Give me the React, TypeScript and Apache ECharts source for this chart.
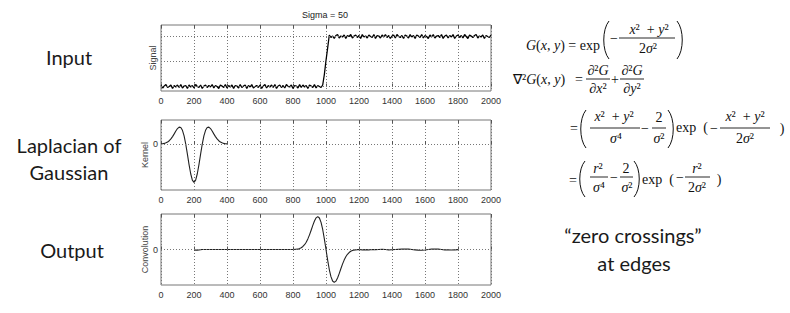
import React, { useEffect, useRef } from "react";
import * as echarts from "echarts";

// ---------- data ----------
const titleText = "Sigma = 50";
const xMin = 0;
const xMax = 2000;
const xInterval = 200;
const signalStep = 10; // sample spacing of the signal (x units)
const kernelStep = 10;

// input signal, x = 0..980
const signalLow = [
  0.02, -0.03, 0.01, 0.04, -0.02, 0.0, 0.03, -0.04, 0.02, -0.01,
  0.03, -0.02, 0.04, -0.03, 0.01, 0.02, -0.04, 0.03, -0.01, 0.02,
  -0.03, 0.04, 0.0, -0.02, 0.03, -0.04, 0.01, 0.03, -0.02, 0.02,
  -0.01, 0.04, -0.03, 0.02, 0.0, -0.04, 0.03, 0.01, -0.02, 0.04,
  -0.03, 0.02, -0.01, 0.03, -0.04, 0.02, 0.01, -0.03, 0.04, -0.02,
  0.01, 0.03, -0.04, 0.02, -0.01, 0.04, -0.03, 0.0, 0.02, -0.02,
  0.03, -0.04, 0.01, 0.04, -0.03, 0.02, -0.01, 0.03, -0.02, 0.04,
  -0.04, 0.01, 0.03, -0.02, 0.02, -0.03, 0.04, 0.0, -0.01, 0.03,
  -0.04, 0.02, 0.01, -0.03, 0.04, -0.02, 0.03, -0.01, 0.02, -0.04,
  0.03, 0.01, -0.02, 0.04, -0.03, 0.02, 0.0, -0.02, 0.03,
];
// x = 990, 1000, 1010
const signalRamp = [0.24, 0.52, 0.77];
// x = 1020..2000
const signalHigh = [
  1.03, 0.98, 1.01, 0.96, 1.02, 1.04, 0.97, 1.01, 0.99, 1.03,
  0.96, 1.02, 1.0, 1.04, 0.97, 1.01, 1.03, 0.98, 1.02, 0.96,
  1.04, 0.99, 1.01, 0.97, 1.03, 1.0, 0.98, 1.04, 0.96, 1.02,
  1.01, 0.97, 1.03, 0.99, 1.04, 0.98, 1.02, 0.96, 1.01, 1.03,
  0.97, 1.04, 1.0, 0.98, 1.02, 0.96, 1.03, 1.01, 0.97, 1.04,
  0.99, 1.02, 0.96, 1.03, 1.01, 0.98, 1.04, 0.97, 1.02, 1.0,
  0.96, 1.03, 0.99, 1.04, 0.97, 1.01, 1.02, 0.98, 1.04, 0.96,
  1.01, 1.03, 0.97, 1.02, 0.99, 1.04, 0.96, 1.01, 1.03, 0.98,
  1.02, 0.97, 1.04, 1.0, 0.96, 1.03, 1.01, 0.98, 1.02, 1.04,
  0.97, 1.01, 0.99, 1.03, 0.96, 1.02, 1.0, 0.98, 1.03,
];
const signalGridLevels = [0, 0.5, 1];

// Laplacian of Gaussian kernel, x = 0..400
const kernelValues = [
  0.005, 0.01, 0.018, 0.033, 0.055, 0.089, 0.136, 0.196, 0.267, 0.341,
  0.406, 0.443, 0.434, 0.36, 0.214, 0, -0.261, -0.535, -0.775, -0.941,
  -1, -0.941, -0.775, -0.535, -0.261, 0, 0.214, 0.36, 0.434, 0.443,
  0.406, 0.341, 0.267, 0.196, 0.136, 0.089, 0.055, 0.033, 0.018, 0.01,
  0.005,
];

// convolution output
const convX = [
  200, 210, 220, 230, 240, 250, 400, 600, 800, 830,
  840, 850, 860, 870, 880, 890, 900, 910, 920, 930,
  940, 950, 960, 970, 980, 990, 1000, 1010, 1020, 1030,
  1040, 1050, 1060, 1070, 1080, 1090, 1100, 1110, 1120, 1130,
  1140, 1150, 1160, 1170, 1180, 1190, 1200, 1220, 1240, 1260,
  1280, 1300, 1320, 1340, 1360, 1380, 1400, 1420, 1440, 1460,
  1480, 1500, 1520, 1540, 1560, 1580, 1600, 1620, 1640, 1660,
  1680, 1700, 1720, 1740, 1760, 1780, 1800,
];
const convY = [
  -0.01, -0.02, -0.02, -0.015, -0.005, 0, 0, 0, 0, 0.01,
  0.03, 0.055, 0.092, 0.146, 0.222, 0.322, 0.446, 0.587, 0.733, 0.866,
  0.963, 1.0, 0.958, 0.826, 0.609, 0.323, 0, -0.323, -0.609, -0.826,
  -0.958, -1.0, -0.963, -0.866, -0.733, -0.587, -0.446, -0.322, -0.222, -0.146,
  -0.092, -0.055, -0.032, -0.018, -0.01, -0.005, 0, -0.01, -0.005, -0.01,
  0, -0.005, 0, 0.005, 0, -0.01, -0.005, 0, 0.005, 0.01,
  0.015, 0.01, 0, -0.01, -0.02, -0.025, -0.015, 0, 0.01, 0.015,
  0.01, 0, -0.01, -0.01, -0.015, -0.01, -0.005,
];

const yNames = ["Signal", "Kernel", "Convolution"];
const panelLabels = ["Input", "Laplacian of", "Gaussian", "Output"];
const noteLines = ["\u201Czero crossings\u201D", "at edges"];

// ---------- styles ----------
const SANS = "'Liberation Sans', Arial, Helvetica, sans-serif";
const SERIF = "'Liberation Serif', 'Times New Roman', serif";
const LABEL_FONT = "Lato, 'Open Sans', sans-serif";
const INK = "#111";
const GRID_COLOR = "#777";
const DOT = [1, 2];

const GRIDS = [
  { left: 161, top: 25, width: 330, height: 66 },
  { left: 161, top: 120, width: 330, height: 70 },
  { left: 161, top: 214, width: 330, height: 71 },
];
const Y_RANGES = [
  { min: -0.09, max: 1.23 },
  { min: -1.2, max: 0.63, interval: 0.6 },
  { min: -1.08, max: 1.08, interval: 1.08 },
];

function eqText(text: string, x: number, y: number, align = "center", size = 14) {
  return {
    type: "text",
    x,
    y,
    silent: true,
    style: {
      text,
      x: 0,
      y: 0,
      fill: INK,
      fontSize: size,
      fontFamily: SERIF,
      align,
      verticalAlign: "middle",
      rich: {
        i: { fontStyle: "italic", fontSize: size, fontFamily: SERIF, fill: INK },
      },
    },
  };
}
function bar(x1: number, x2: number, y: number) {
  return {
    type: "line",
    silent: true,
    shape: { x1, y1: y, x2, y2: y },
    style: { stroke: INK, lineWidth: 0.9 },
  };
}
function paren(x: number, top: number, bottom: number, dir: number) {
  // dir = -1 for "(", +1 for ")"
  const h = bottom - top;
  const bulge = x + dir * 7;
  return {
    type: "bezierCurve",
    silent: true,
    shape: {
      x1: x,
      y1: top,
      x2: x,
      y2: bottom,
      cpx1: bulge,
      cpy1: top + h * 0.22,
      cpx2: bulge,
      cpy2: top + h * 0.78,
    },
    style: { stroke: INK, lineWidth: 1, fill: null },
  };
}

function buildEquations() {
  const els: any[] = [];
  // Line 1: G(x,y) = exp( - (x^2+y^2)/(2 sigma^2) )
  els.push(eqText("{i|G}({i|x}, {i|y}) = exp", 526, 45, "left"));
  els.push(paren(609, 21, 59, -1));
  els.push(eqText("\u2212", 614, 38));
  els.push(eqText("{i|x}\u00B2  + {i|y}\u00B2", 649, 29));
  els.push(bar(619, 675, 38));
  els.push(eqText("2{i|\u03C3}\u00B2", 648, 48));
  els.push(paren(677, 21, 59, 1));

  // Line 2: nabla^2 G = d2G/dx2 + d2G/dy2
  els.push(eqText("\u2207\u00B2{i|G}({i|x}, {i|y})", 513, 79, "left"));
  els.push(eqText("=", 579, 79));
  els.push(eqText("\u2202\u00B2{i|G}", 598, 70));
  els.push(bar(586, 610, 79));
  els.push(eqText("\u2202{i|x}\u00B2", 598, 88));
  els.push(eqText("+", 615, 79));
  els.push(eqText("\u2202\u00B2{i|G}", 632, 70));
  els.push(bar(620, 644, 79));
  els.push(eqText("\u2202{i|y}\u00B2", 632, 88));

  // Line 3
  els.push(eqText("=", 574, 128));
  els.push(paren(586, 110, 148, -1));
  els.push(eqText("{i|x}\u00B2  + {i|y}\u00B2", 614, 116));
  els.push(bar(590, 640, 128));
  els.push(eqText("{i|\u03C3}\u2074", 616, 138));
  els.push(eqText("\u2212", 645, 128));
  els.push(eqText("2", 659, 117));
  els.push(bar(652, 666, 128));
  els.push(eqText("{i|\u03C3}\u00B2", 659, 138));
  els.push(paren(668, 110, 148, 1));
  els.push(eqText("exp  (", 676, 127, "left"));
  els.push(eqText("\u2212", 714, 128));
  els.push(eqText("{i|x}\u00B2  + {i|y}\u00B2", 745, 116));
  els.push(bar(720, 770, 128));
  els.push(eqText("2{i|\u03C3}\u00B2", 745, 138));
  els.push(eqText(")", 782, 128));

  // Line 4
  els.push(eqText("=", 573, 180));
  els.push(paren(585, 161, 197, -1));
  els.push(eqText("{i|r}\u00B2", 598, 168));
  els.push(bar(590, 608, 177));
  els.push(eqText("{i|\u03C3}\u2074", 599, 187));
  els.push(eqText("\u2212", 614, 177));
  els.push(eqText("2", 626, 168));
  els.push(bar(620, 633, 177));
  els.push(eqText("{i|\u03C3}\u00B2", 627, 187));
  els.push(paren(634, 161, 197, 1));
  els.push(eqText("exp  (", 642, 179, "left"));
  els.push(eqText("\u2212", 680, 177));
  els.push(eqText("{i|r}\u00B2", 697, 168));
  els.push(bar(685, 710, 177));
  els.push(eqText("2{i|\u03C3}\u00B2", 697, 187));
  els.push(eqText(")", 719, 179));
  return els;
}

function sideText(text: string, x: number, y: number) {
  return {
    type: "text",
    x,
    y,
    silent: true,
    style: {
      text,
      fill: "#1a1a1a",
      fontSize: 20,
      fontWeight: 400,
      fontFamily: LABEL_FONT,
      align: "center",
      verticalAlign: "middle",
    },
  };
}

function buildOption() {
  const signalValues = [...signalLow, ...signalRamp, ...signalHigh];
  const signalData = signalValues.map((v, i) => [i * signalStep, v]);
  const kernelData = kernelValues.map((v, i) => [i * kernelStep, v]);
  const convData = convX.map((x, i) => [x, convY[i]]);

  const grids = GRIDS.map((g) => ({
    ...g,
    show: true,
    borderColor: GRID_COLOR,
    borderWidth: 1,
    backgroundColor: "transparent",
    containLabel: false,
  }));

  const xAxes: any[] = [];
  GRIDS.forEach((_, gi) => {
    xAxes.push({
      type: "value",
      gridIndex: gi,
      min: xMin,
      max: xMax,
      interval: xInterval,
      axisLine: { show: false },
      axisTick: { show: true, inside: true, length: 3, lineStyle: { color: "#555" } },
      axisLabel: {
        show: true,
        fontSize: 9,
        color: "#333",
        fontFamily: SANS,
        margin: 5,
        formatter: (v: number) => String(v),
      },
      splitLine: { show: true, lineStyle: { color: GRID_COLOR, type: DOT, width: 1 } },
    });
  });
  GRIDS.forEach((_, gi) => {
    xAxes.push({
      type: "value",
      gridIndex: gi,
      position: "top",
      min: xMin,
      max: xMax,
      interval: xInterval,
      axisLine: { show: false },
      axisTick: { show: true, inside: true, length: 3, lineStyle: { color: "#555" } },
      axisLabel: { show: false },
      splitLine: { show: false },
    });
  });

  const yAxes = GRIDS.map((_, gi) => ({
    type: "value",
    gridIndex: gi,
    ...Y_RANGES[gi],
    name: yNames[gi],
    nameLocation: "middle",
    nameGap: gi === 0 ? 4 : 7,
    nameTextStyle: { fontSize: 9, color: "#444", fontFamily: SANS },
    axisLine: { show: false },
    axisTick: { show: false },
    axisLabel: {
      show: gi > 0,
      fontSize: 9,
      color: "#333",
      fontFamily: SANS,
      margin: 3,
      formatter: (v: number) => (Math.abs(v) < 1e-9 ? "0" : ""),
    },
    splitLine: { show: false },
  }));

  const markLineOf = (levels: number[]) => ({
    silent: true,
    symbol: "none",
    label: { show: false },
    lineStyle: { color: GRID_COLOR, type: DOT, width: 1 },
    data: levels.map((l) => ({ yAxis: l })),
  });

  const lineSeries = (data: number[][], gi: number, levels: number[], width: number, color: string) => ({
    type: "line",
    xAxisIndex: gi,
    yAxisIndex: gi,
    data,
    showSymbol: false,
    symbol: "none",
    lineStyle: { color, width },
    markLine: markLineOf(levels),
    z: 3,
  });

  const graphics: any[] = [
    {
      type: "text",
      x: 325,
      y: 15,
      silent: true,
      style: {
        text: titleText,
        fill: "#222",
        fontSize: 9,
        fontFamily: SANS,
        align: "center",
        verticalAlign: "middle",
      },
    },
    sideText(panelLabels[0], 69, 57),
    sideText(panelLabels[1], 69, 145),
    sideText(panelLabels[2], 69, 172),
    sideText(panelLabels[3], 72, 250),
    sideText(noteLines[0], 633, 235),
    sideText(noteLines[1], 634, 263),
    ...buildEquations(),
  ];

  return {
    animation: false,
    backgroundColor: "#fff",
    grid: grids,
    xAxis: xAxes,
    yAxis: yAxes,
    series: [
      lineSeries(signalData, 0, signalGridLevels, 1.3, "#000"),
      lineSeries(kernelData, 1, [0], 1.1, "#222"),
      lineSeries(convData, 2, [0], 1.1, "#222"),
    ],
    graphic: graphics,
  };
}

export default function App() {
  const ref = useRef<HTMLDivElement>(null);
  useEffect(() => {
    if (!ref.current) return;
    const chart = echarts.init(ref.current, null, { renderer: "svg" });
    chart.setOption(buildOption() as any);
    return () => chart.dispose();
  }, []);
  return (
    <div
      ref={ref}
      style={{ position: "absolute", left: 0, top: 0, width: 790, height: 313 }}
    />
  );
}
